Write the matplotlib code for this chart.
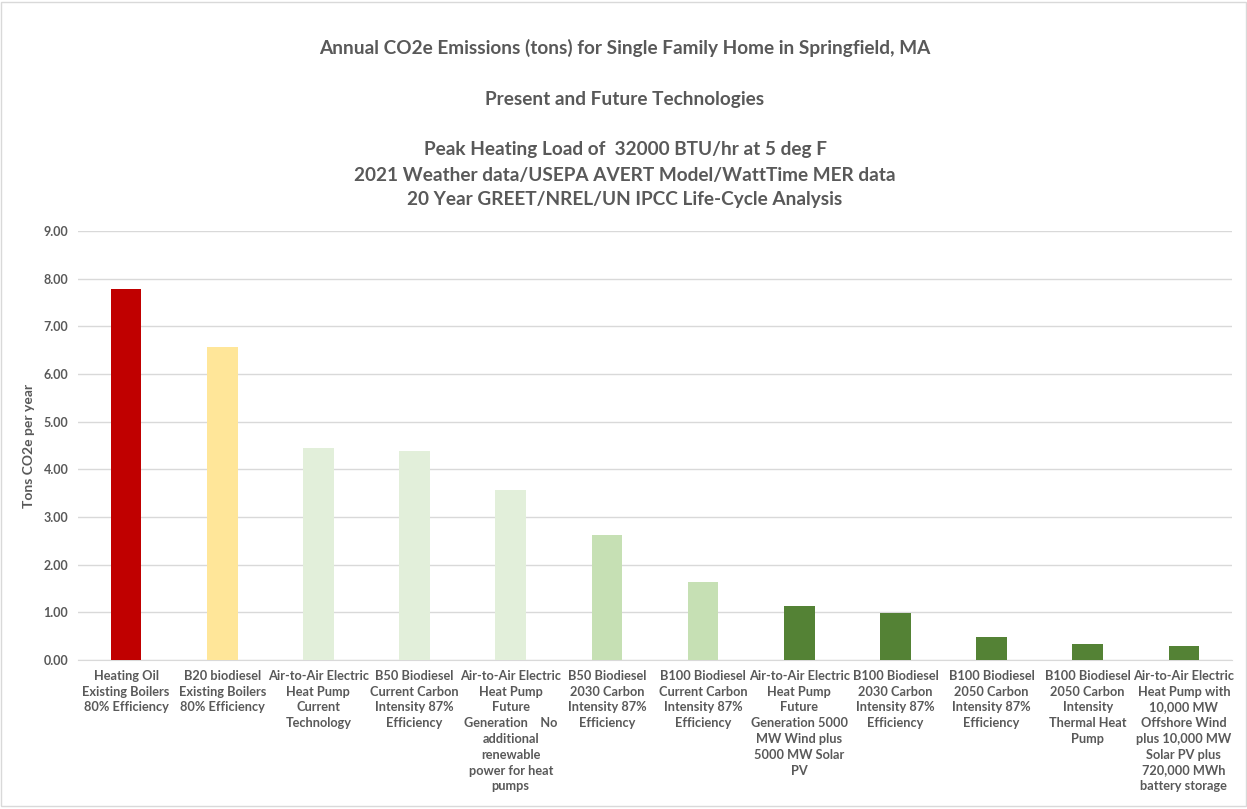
import matplotlib
matplotlib.use("Agg")
import matplotlib.pyplot as plt
from matplotlib.patches import Rectangle
from matplotlib import font_manager

categories = [
    "Heating Oil\nExisting Boilers\n80% Efficiency",
    "B20 biodiesel\nExisting Boilers\n80% Efficiency",
    "Air-to-Air Electric\nHeat Pump\nCurrent\nTechnology",
    "B50 Biodiesel\nCurrent Carbon\nIntensity 87%\nEfficiency",
    "Air-to-Air Electric\nHeat Pump\nFuture\nGeneration    No\nadditional\nrenewable\npower for heat\npumps",
    "B50 Biodiesel\n2030 Carbon\nIntensity 87%\nEfficiency",
    "B100 Biodiesel\nCurrent Carbon\nIntensity 87%\nEfficiency",
    "Air-to-Air Electric\nHeat Pump\nFuture\nGeneration 5000\nMW Wind plus\n5000 MW Solar\nPV",
    "B100 Biodiesel\n2030 Carbon\nIntensity 87%\nEfficiency",
    "B100 Biodiesel\n2050 Carbon\nIntensity 87%\nEfficiency",
    "B100 Biodiesel\n2050 Carbon\nIntensity\nThermal Heat\nPump",
    "Air-to-Air Electric\nHeat Pump with\n10,000 MW\nOffshore Wind\nplus 10,000 MW\nSolar PV plus\n720,000 MWh\nbattery storage",
]
emissions = [7.78, 6.57, 4.45, 4.39, 3.56, 2.63, 1.64, 1.13, 0.98, 0.48, 0.33, 0.29]
bar_colors = ["#C00000", "#FFE699", "#E2EFDA", "#E2EFDA", "#E2EFDA", "#C6E0B4",
              "#C6E0B4", "#548235", "#548235", "#548235", "#548235", "#548235"]
yticks = [0, 1, 2, 3, 4, 5, 6, 7, 8, 9]

title_lines = [
    "Annual CO2e Emissions (tons) for Single Family Home in Springfield, MA",
    "Present and Future Technologies",
    "Peak Heating Load of  32000 BTU/hr at 5 deg F",
    "2021 Weather data/USEPA AVERT Model/WattTime MER data",
    "20 Year GREET/NREL/UN IPCC Life-Cycle Analysis",
]
title_y = [48, 100, 150, 175, 200]

available = {f.name for f in font_manager.fontManager.ttflist}
family = "Liberation Sans Narrow" if "Liberation Sans Narrow" in available else "Lato"
plt.rcParams["font.family"] = family
text_color = "#595959"

W, H = 1247, 809
fig = plt.figure(figsize=(W / 100, H / 100), dpi=100)
ax = fig.add_axes([78 / W, 1 - 660 / H, (1232 - 78) / W, (660 - 231) / H])

x = list(range(len(categories)))
ax.bar(x, emissions, width=0.32, color=bar_colors, zorder=3)
ax.set_xlim(-0.5, len(categories) - 0.5)
ax.set_ylim(0, 9)
ax.set_yticks(yticks)
ax.set_yticklabels([f"{v:.2f}" for v in yticks], fontsize=9, fontweight="bold", color=text_color)
ax.set_xticks(x)
ax.set_xticklabels(categories, fontsize=9.2, fontweight="bold", color=text_color,
                   va="top", linespacing=1.38)
ax.tick_params(axis="both", length=0)
ax.tick_params(axis="y", pad=7)
ax.tick_params(axis="x", pad=7)
ax.grid(axis="y", color="#D9D9D9", linewidth=1, zorder=0)
for s in ["top", "right", "left"]:
    ax.spines[s].set_visible(False)
ax.spines["bottom"].set_color("#D9D9D9")
ax.set_ylabel("Tons CO2e per year", fontsize=10, fontweight="bold", color=text_color, labelpad=6)

for line, yy in zip(title_lines, title_y):
    fig.text(625 / W, 1 - yy / H, line, ha="center", va="center",
             fontsize=13.7, fontweight="bold", color=text_color)

fig.patches.append(Rectangle((1 / W, 3 / H), (W - 2) / W, (H - 5) / H, transform=fig.transFigure,
                             fill=False, edgecolor="#D9D9D9", linewidth=1))

fig.savefig("out.png", dpi=100, facecolor="white")
